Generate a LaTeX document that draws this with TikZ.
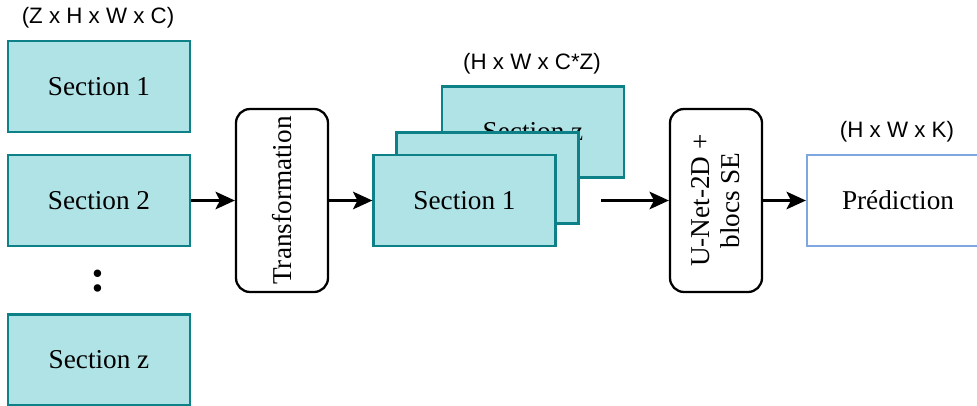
\documentclass[tikz,border=0pt]{standalone}
\usepackage{fontspec}
\setmainfont{Liberation Serif}
\setsansfont{Liberation Sans}
\usetikzlibrary{arrows.meta}
\definecolor{secfill}{HTML}{B0E3E6}
\definecolor{secdraw}{HTML}{0E8088}
\definecolor{preddraw}{HTML}{7EA6E0}
\tikzset{
  section/.style={draw=secdraw, fill=secfill, line width=1.3pt,
    minimum width=3.64cm, minimum height=1.82cm, inner sep=0pt,
    font=\fontsize{15.5}{18}\selectfont},
  bloc/.style={draw, rounded corners=8pt, line width=1.3pt,
    minimum width=1.84cm, minimum height=3.66cm, inner sep=0pt},
  bloctext/.style={rotate=90, align=center, font=\fontsize{15.5}{17}\selectfont},
  dim/.style={font=\sffamily\fontsize{12.7}{15}\selectfont},
  fleche/.style={-{Stealth[length=11pt,width=10pt,inset=2.5pt]}, line width=1.4pt},
}
\begin{document}
\begin{tikzpicture}
  \useasboundingbox (0,0) rectangle (19.54,8.1);
  % sections en entree
  \node[dim] (dimin) at (1.96,7.74) {(Z x H x W x C)};
  \node[section] (sec1) at (1.98,6.37) {Section 1};
  \node[section] (sec2) at (1.98,4.09) {Section 2};
  \node[font=\fontsize{26}{26}\bfseries] (dots) at (1.96,2.48) {:};
  \node[section] (secz) at (1.98,0.90) {Section z};
  % transformation
  \node[bloc] (trans) at (5.64,4.09) {};
  \node[bloctext] (transtxt) at (trans) {Transformation};
  % pile de sections
  \node[dim] (dimpile) at (10.64,6.82) {(H x W x C*Z)};
  \node[section] (pilez) at (10.66,5.46) {Section z};
  \node[section] (pile2) at (9.75,4.54) {};
  \node[section] (pile1) at (9.29,4.09) {Section 1};
  \coordinate (depart) at (12.02,4.09);
  % reseau
  \node[bloc] (unet) at (14.32,4.09) {};
  \node[bloctext] (unettxt) at (unet) {U-Net-2D +\\blocs SE};
  % sortie
  \node[dim] (dimout) at (17.94,5.46) {(H x W x K)};
  \node[section, draw=preddraw, fill=white] (pred) at (17.96,4.09) {Prédiction};
  \draw[fleche] (sec2) -- (trans);
  \draw[fleche] (trans) -- (pile1);
  \draw[fleche] (depart) -- (unet);
  \draw[fleche] (unet) -- (pred);
\end{tikzpicture}
\end{document}
